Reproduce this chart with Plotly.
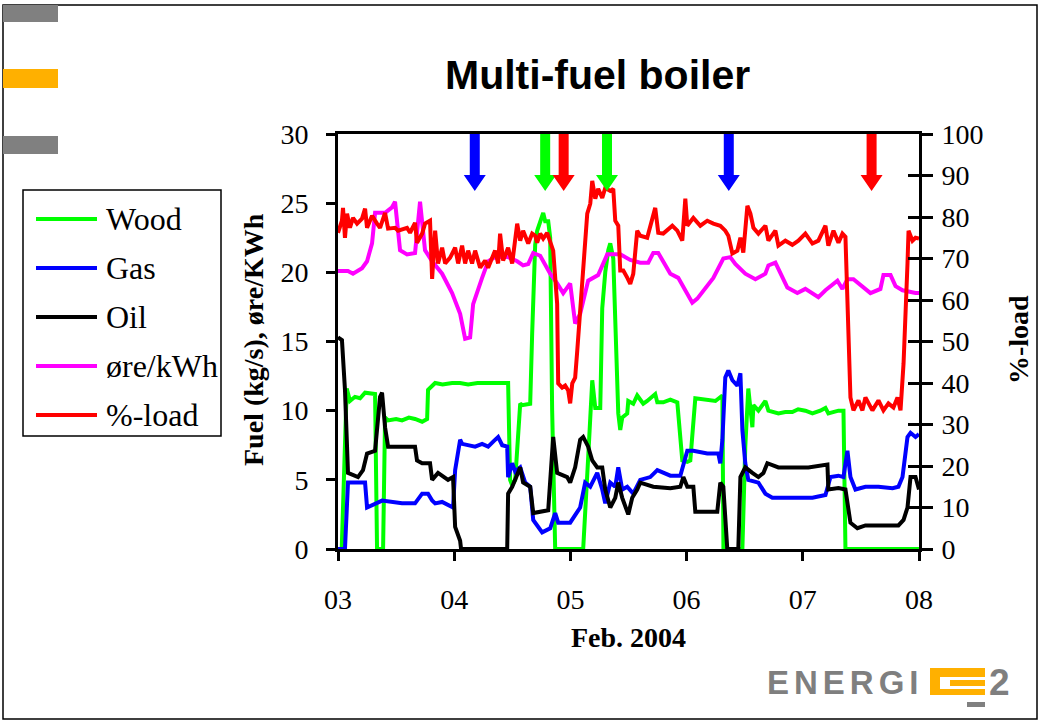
import numpy as np
import pandas as pd
import plotly.graph_objects as go

# ---------------- data (x in days after 2004-02-03 00:00) ----------------
wood_t = [0, 0.032, 0.075, 0.103, 0.146, 0.190, 0.233, 0.293, 0.319, 0.336, 0.388, 0.405, 0.431, 0.500,
          0.551, 0.610, 0.663, 0.724, 0.767, 0.775, 0.836, 0.900, 0.982, 1.050, 1.120, 1.200, 1.266, 1.350,
          1.464, 1.481, 1.499, 1.525, 1.542, 1.568, 1.585, 1.654, 1.671, 1.697, 1.714, 1.740, 1.766,
          1.783, 1.809, 1.826, 1.843, 1.869, 2.110, 2.153, 2.188, 2.214, 2.257, 2.274, 2.300, 2.326,
          2.343, 2.369, 2.403, 2.412, 2.429, 2.446, 2.489, 2.498, 2.541, 2.575, 2.627, 2.661, 2.730,
          2.748, 2.799, 2.860, 2.920, 2.946, 2.963, 3.006, 3.032, 3.075, 3.150, 3.248, 3.308, 3.317,
          3.480, 3.505, 3.531, 3.566, 3.575, 3.618, 3.678, 3.704, 3.790, 3.850, 3.910, 3.960, 4.022,
          4.083, 4.150, 4.195, 4.220, 4.307, 4.350, 4.367, 5.0]
wood_v = [0, 0, 11.6, 10.7, 11.0, 10.9, 11.3, 11.2, 11.2, 0, 0, 9.5, 9.3, 9.4,
          9.3, 9.5, 9.4, 9.2, 9.4, 11.5, 12.0, 11.9, 12.0, 12.0, 11.9, 12.0, 12.0, 12.0,
          12.0, 5.0, 4.6, 5.0, 7.5, 10.5, 10.4, 10.5, 15.6, 22.0, 23.0, 23.6, 24.3,
          23.7, 23.7, 22.5, 10.0, 0, 0, 6.6, 12.2, 10.2, 10.2, 17.4, 20.0, 21.6,
          22.1, 21.0, 10.0, 9.8, 8.6, 9.5, 9.8, 10.7, 10.5, 11.1, 10.5, 10.7, 11.2,
          10.6, 10.6, 10.8, 10.6, 7.9, 6.4, 6.3, 6.4, 10.9, 10.8, 10.7, 11.1, 0,
          0, 7.4, 11.6, 8.8, 10.4, 10.0, 10.7, 10.0, 9.8, 9.9, 9.9, 10.1, 10.0,
          9.8, 10.0, 10.2, 9.8, 10.0, 10.0, 0, 0]

gas_t = [0, 0.060, 0.086, 0.121, 0.233, 0.250, 0.319, 0.379, 0.551, 0.663, 0.724, 0.775, 0.810, 0.836,
         0.896, 0.990, 1.008, 1.051, 1.068, 1.120, 1.180, 1.240, 1.292, 1.340, 1.378, 1.413, 1.456,
         1.464, 1.499, 1.525, 1.568, 1.611, 1.654, 1.680, 1.757, 1.826, 1.869, 1.895, 1.998, 2.084,
         2.127, 2.171, 2.231, 2.274, 2.300, 2.343, 2.386, 2.412, 2.446, 2.489, 2.541, 2.601, 2.687,
         2.748, 2.860, 2.946, 2.972, 3.006, 3.058, 3.178, 3.273, 3.290, 3.308, 3.333, 3.359, 3.394,
         3.437, 3.463, 3.480, 3.505, 3.531, 3.618, 3.678, 3.738, 3.910, 4.083, 4.195, 4.238, 4.307,
         4.350, 4.384, 4.410, 4.453, 4.539, 4.651, 4.772, 4.823, 4.858, 4.901, 4.927, 4.970, 5.0]
gas_v = [0, 0, 4.8, 4.8, 4.8, 3.0, 3.3, 3.5, 3.3, 3.3, 4.0, 4.0, 3.5, 3.3,
         3.4, 3.0, 5.7, 7.9, 7.6, 7.5, 7.4, 7.6, 7.4, 7.8, 8.1, 7.5, 7.4,
         5.2, 6.2, 5.6, 5.9, 4.8, 4.5, 2.1, 1.2, 1.5, 2.6, 1.9, 1.9, 3.0,
         4.8, 4.5, 5.5, 4.3, 3.3, 4.8, 4.5, 5.9, 4.3, 4.5, 4.0, 5.0, 5.2,
         5.7, 5.3, 5.3, 6.2, 7.1, 7.1, 6.9, 6.9, 6.2, 7.9, 12.4, 12.9, 12.2,
         11.8, 12.7, 8.6, 6.2, 5.0, 4.8, 4.0, 3.7, 3.7, 3.7, 3.9, 5.2, 5.3,
         5.2, 7.1, 5.2, 4.3, 4.5, 4.5, 4.4, 4.5, 5.2, 8.1, 8.4, 8.1, 8.3]

oil_t = [0, 0.034, 0.060, 0.086, 0.172, 0.215, 0.250, 0.319, 0.362, 0.379, 0.405, 0.431, 0.551, 0.663,
         0.680, 0.724, 0.792, 0.810, 0.861, 0.947, 0.990, 1.008, 1.051, 1.059, 1.456, 1.464, 1.499,
         1.542, 1.568, 1.593, 1.654, 1.680, 1.740, 1.809, 1.852, 1.886, 1.972, 1.998, 2.041, 2.084,
         2.110, 2.153, 2.188, 2.231, 2.274, 2.300, 2.343, 2.386, 2.412, 2.446, 2.498, 2.532, 2.575,
         2.601, 2.713, 2.860, 2.946, 2.972, 3.006, 3.058, 3.075, 3.204, 3.264, 3.290, 3.316, 3.350,
         3.445, 3.463, 3.505, 3.566, 3.618, 3.661, 3.695, 3.790, 3.910, 4.048, 4.212, 4.220, 4.307,
         4.367, 4.410, 4.470, 4.539, 4.651, 4.823, 4.867, 4.901, 4.927, 4.970, 5.0]
oil_v = [15.3, 15.1, 11.5, 5.5, 5.2, 5.7, 6.9, 7.1, 11.0, 11.3, 8.8, 7.4, 7.4, 7.4,
         6.4, 6.2, 6.2, 5.0, 5.5, 5.0, 5.2, 1.6, 0.6, 0, 0, 4.0, 4.5,
         5.5, 5.9, 4.8, 4.5, 2.6, 2.7, 2.8, 8.1, 5.5, 5.2, 4.8, 5.9, 7.9,
         8.1, 7.4, 6.4, 5.9, 5.9, 4.3, 3.0, 3.7, 4.8, 3.7, 2.5, 3.7, 4.3,
         4.8, 4.5, 4.4, 4.5, 5.2, 4.5, 4.5, 2.7, 2.7, 2.7, 4.8, 4.5, 0,
         0, 5.2, 5.9, 5.5, 5.2, 5.5, 6.2, 5.9, 5.9, 5.9, 6.1, 4.3, 4.4,
         4.3, 1.9, 1.5, 1.7, 1.7, 1.7, 2.1, 3.0, 5.2, 5.2, 4.3]

ore_t = [0, 0.086, 0.129, 0.207, 0.250, 0.293, 0.319, 0.405, 0.465, 0.491, 0.534, 0.594, 0.663, 0.706,
         0.749, 0.810, 0.896, 0.982, 1.051, 1.094, 1.137, 1.163, 1.240, 1.292, 1.352, 1.464, 1.542,
         1.593, 1.637, 1.680, 1.740, 1.826, 1.886, 1.938, 1.998, 2.041, 2.084, 2.153, 2.239, 2.317,
         2.429, 2.515, 2.601, 2.670, 2.713, 2.756, 2.860, 2.928, 3.049, 3.092, 3.230, 3.316, 3.376,
         3.419, 3.505, 3.592, 3.678, 3.704, 3.764, 3.867, 3.953, 4.022, 4.134, 4.195, 4.298, 4.341,
         4.384, 4.436, 4.582, 4.668, 4.694, 4.755, 4.798, 4.858, 4.970, 5.0]
ore_v = [20.1, 20.1, 19.9, 20.3, 20.8, 22.1, 24.3, 24.3, 24.7, 25.1, 21.6, 21.3, 21.4, 25.1,
         21.6, 20.8, 19.9, 18.5, 17.0, 15.2, 15.3, 17.7, 19.6, 20.8, 21.1, 21.1, 20.8,
         20.5, 20.6, 21.4, 21.2, 19.9, 19.2, 18.5, 19.2, 16.3, 17.0, 19.4, 19.8, 21.3,
         21.3, 20.9, 20.7, 20.7, 21.4, 21.4, 19.9, 19.6, 17.8, 18.1, 19.6, 21.0, 21.1,
         20.6, 19.9, 19.5, 19.9, 20.5, 20.7, 18.9, 18.5, 18.8, 18.2, 18.7, 19.4, 18.8,
         19.5, 19.5, 18.5, 18.8, 19.8, 19.8, 19.0, 18.7, 18.5, 18.5]

load_t = [0, 0.034, 0.043, 0.060, 0.078, 0.103, 0.129, 0.164, 0.207, 0.233, 0.250, 0.293, 0.336, 0.362,
          0.405, 0.431, 0.491, 0.517, 0.594, 0.620, 0.663, 0.680, 0.724, 0.749, 0.792, 0.810, 0.836,
          0.861, 0.896, 0.922, 0.965, 1.008, 1.034, 1.068, 1.094, 1.120, 1.154, 1.180, 1.223, 1.266,
          1.292, 1.352, 1.378, 1.395, 1.421, 1.464, 1.499, 1.542, 1.568, 1.593, 1.637, 1.671, 1.697,
          1.714, 1.740, 1.766, 1.800, 1.826, 1.852, 1.886, 1.895, 1.929, 1.955, 1.981, 1.998, 2.016,
          2.041, 2.059, 2.084, 2.110, 2.145, 2.171, 2.188, 2.214, 2.239, 2.274, 2.300, 2.343, 2.369,
          2.386, 2.412, 2.429, 2.455, 2.489, 2.515, 2.541, 2.575, 2.601, 2.661, 2.730, 2.756, 2.799,
          2.877, 2.920, 2.963, 2.989, 3.006, 3.058, 3.118, 3.178, 3.230, 3.290, 3.333, 3.359, 3.394,
          3.437, 3.463, 3.488, 3.523, 3.549, 3.575, 3.618, 3.678, 3.704, 3.764, 3.790, 3.850, 3.910,
          3.962, 4.022, 4.083, 4.134, 4.195, 4.220, 4.264, 4.307, 4.341, 4.367, 4.393, 4.410, 4.436,
          4.479, 4.513, 4.539, 4.599, 4.651, 4.694, 4.737, 4.780, 4.815, 4.841, 4.867, 4.901, 4.910,
          4.944, 4.970, 5.0]
load_v = [76.2, 79.1, 82.2, 75.0, 80.8, 77.4, 79.8, 78.4, 79.6, 82.0, 77.4, 80.3, 78.4, 77.4,
          81.0, 77.2, 77.4, 76.7, 77.4, 76.2, 78.6, 73.8, 76.0, 78.4, 79.1, 65.1, 76.7,
          68.8, 72.6, 68.8, 70.2, 72.6, 68.8, 73.1, 68.8, 71.9, 68.8, 71.9, 67.8, 69.5,
          67.8, 71.9, 68.8, 76.0, 69.5, 72.6, 68.8, 78.4, 74.3, 76.7, 73.6, 76.0, 75.5,
          73.8, 76.0, 74.8, 76.2, 73.8, 71.9, 59.1, 39.9, 38.9, 39.4, 38.2, 35.1, 39.9,
          41.3, 47.8, 57.5, 64.7, 80.8, 83.2, 88.7, 84.4, 86.8, 84.6, 87.0, 86.3, 86.8,
          79.1, 77.9, 67.1, 67.1, 65.4, 63.9, 66.3, 76.7, 75.5, 75.0, 82.2, 76.2, 76.0,
          77.9, 76.7, 74.3, 84.4, 77.9, 79.8, 77.9, 79.1, 78.4, 77.9, 76.7, 75.5, 71.2,
          71.9, 75.0, 71.4, 82.7, 80.8, 77.4, 76.0, 77.9, 74.3, 76.7, 73.1, 74.3, 73.3,
          74.3, 76.0, 73.6, 74.3, 77.9, 73.1, 76.7, 73.8, 76.0, 75.2, 47.1, 36.5, 33.4,
          35.8, 33.4, 36.5, 33.4, 35.8, 33.4, 35.1, 34.1, 36.5, 33.4, 44.7, 68.8, 76.7,
          74.3, 75.0, 74.8]

series_names = ["Wood", "Gas", "Oil", "øre/kWh", "%-load"]
series_colors = ["#00FF00", "#0000FF", "#000000", "#FF00FF", "#FF0000"]

arrow_days = [1.177, 1.783, 1.942, 2.315, 3.363, 4.592]
arrow_colors = ["#0000FF", "#00FF00", "#FF0000", "#00FF00", "#0000FF", "#FF0000"]

x_tick_days = [0, 1, 2, 3, 4, 5]

# ---------------- helpers ----------------
base = pd.Timestamp("2004-02-03")


def to_dt(days):
    return base + pd.to_timedelta(np.asarray(days, dtype=float), unit="D")


W, H = 1041, 722
PL, PR, PT, PB = 338, 919, 134, 549


def fx(px):
    return (px - PL) / (PR - PL)


def fy(py):
    return (PB - py) / (PB - PT)


LW = 4
fig = go.Figure()
data = [(wood_t, wood_v, "y"), (gas_t, gas_v, "y"), (oil_t, oil_v, "y"),
        (ore_t, ore_v, "y"), (load_t, load_v, "y2")]
for (t, v, ax), name, col in zip(data, series_names, series_colors):
    fig.add_trace(go.Scatter(x=to_dt(t), y=v, name=name, mode="lines", yaxis=ax,
                             line=dict(color=col, width=LW), showlegend=False))
# invisible trace to carry the inward right-hand ticks
fig.add_trace(go.Scatter(x=to_dt([0]), y=[None], yaxis="y3", showlegend=False, hoverinfo="skip"))

serif = "Liberation Serif"
sans = "Liberation Sans"

fig.update_layout(
    width=W, height=H,
    margin=dict(l=PL, r=W - PR, t=PT, b=H - PB),
    paper_bgcolor="white", plot_bgcolor="white",
    showlegend=False,
    xaxis=dict(type="date", range=[to_dt([0])[0], to_dt([5])[0]],
               tickvals=list(to_dt(x_tick_days)), tickformat="%d",
               showgrid=False, zeroline=False, showline=True, linecolor="black", linewidth=3,
               mirror=True, ticks="outside", ticklen=9, tickwidth=3, tickcolor="black",
               tickfont=dict(family=serif, size=28, color="black"), ticklabelstandoff=14),
    yaxis=dict(range=[0, 30], dtick=5, showgrid=False, zeroline=False, showline=True,
               linecolor="black", linewidth=3, ticks="outside", ticklen=9, tickwidth=3,
               tickcolor="black", tickfont=dict(family=serif, size=28, color="black"),
               ticklabelstandoff=12),
    yaxis2=dict(range=[0, 100], dtick=10, overlaying="y", side="right", showgrid=False,
                zeroline=False, showline=True, linecolor="black", linewidth=3,
                ticks="outside", ticklen=11, tickwidth=3, tickcolor="black",
                tickfont=dict(family=serif, size=28, color="black"), ticklabelstandoff=3),
    yaxis3=dict(range=[0, 100], dtick=10, overlaying="y", side="right", showgrid=False,
                zeroline=False, showline=False, ticks="inside", ticklen=11, tickwidth=3,
                tickcolor="black", showticklabels=False),
)

shapes = []
annotations = []

# arrows (pixel-sized shapes anchored at data x, plot top)
for d, c in zip(arrow_days, arrow_colors):
    shapes.append(dict(type="path", xref="x", yref="paper", xsizemode="pixel", ysizemode="pixel",
                       xanchor=to_dt([d])[0], yanchor=1,
                       path="M -5 0 L 5 0 L 5 -41 L 11 -41 L 0 -57 L -11 -41 L -5 -41 Z",
                       fillcolor=c, line=dict(width=0)))

# slide frame and decorations
shapes.append(dict(type="rect", xref="paper", yref="paper", x0=fx(3), x1=fx(1037), y0=fy(719), y1=fy(5),
                   line=dict(color="black", width=1.5), fillcolor="rgba(0,0,0,0)", layer="below"))
for y0, y1, col in [(5, 22, "#808080"), (69, 88, "#FFB000"), (136, 154, "#808080")]:
    shapes.append(dict(type="rect", xref="paper", yref="paper", x0=fx(3), x1=fx(58), y0=fy(y1), y1=fy(y0),
                       fillcolor=col, line=dict(width=0)))

# legend
shapes.append(dict(type="rect", xref="paper", yref="paper", x0=fx(23), x1=fx(221), y0=fy(436), y1=fy(190),
                   line=dict(color="black", width=1.5), fillcolor="white"))
leg_y = [219, 268, 317, 366, 415]
for name, col, yy in zip(series_names, series_colors, leg_y):
    shapes.append(dict(type="line", xref="paper", yref="paper", x0=fx(36), x1=fx(97), y0=fy(yy), y1=fy(yy),
                       line=dict(color=col, width=LW)))
    annotations.append(dict(xref="paper", yref="paper", x=fx(104), y=fy(yy), text=name, showarrow=False,
                            xanchor="left", yanchor="middle",
                            font=dict(family=serif, size=32, color="black")))

# logo E2 icon
for x0, x1, y0, y1, col in [(930, 985, 668, 677, "#FFB000"), (930, 940, 668, 695, "#FFB000"),
                            (950, 985, 680, 686, "#FFB000"), (930, 985, 689, 695, "#FFB000"),
                            (967, 985, 702, 707, "#808080")]:
    shapes.append(dict(type="rect", xref="paper", yref="paper", x0=fx(x0), x1=fx(x1), y0=fy(y1), y1=fy(y0),
                       fillcolor=col, line=dict(width=0)))
annotations.append(dict(xref="paper", yref="paper", x=fx(765), y=fy(682),
                        text='<span style="letter-spacing:5px">ENERGI</span>',
                        showarrow=False, xanchor="left", yanchor="middle",
                        font=dict(family=sans, size=33, color="#7F7F7F", weight="bold")))
annotations.append(dict(xref="paper", yref="paper", x=fx(987), y=fy(682), text="2",
                        showarrow=False, xanchor="left", yanchor="middle",
                        font=dict(family=sans, size=37, color="#7F7F7F", weight="bold")))

# titles
annotations.append(dict(xref="paper", yref="paper", x=fx(597), y=fy(75), text="<b>Multi-fuel boiler</b>",
                        showarrow=False, xanchor="center", yanchor="middle",
                        font=dict(family=sans, size=41, color="black")))
annotations.append(dict(xref="paper", yref="paper", x=fx(628), y=fy(637), text="<b>Feb. 2004</b>",
                        showarrow=False, xanchor="center", yanchor="middle",
                        font=dict(family=serif, size=28, color="black")))
annotations.append(dict(xref="paper", yref="paper", x=fx(253), y=fy(340),
                        text="<b>Fuel (kg/s), øre/KWh</b>", textangle=-90,
                        showarrow=False, xanchor="center", yanchor="middle",
                        font=dict(family=serif, size=28, color="black")))
annotations.append(dict(xref="paper", yref="paper", x=fx(1018), y=fy(340), text="<b>%-load</b>",
                        textangle=-90, showarrow=False, xanchor="center", yanchor="middle",
                        font=dict(family=serif, size=28, color="black")))

fig.update_layout(shapes=shapes, annotations=annotations)
fig.write_html("out.html")
